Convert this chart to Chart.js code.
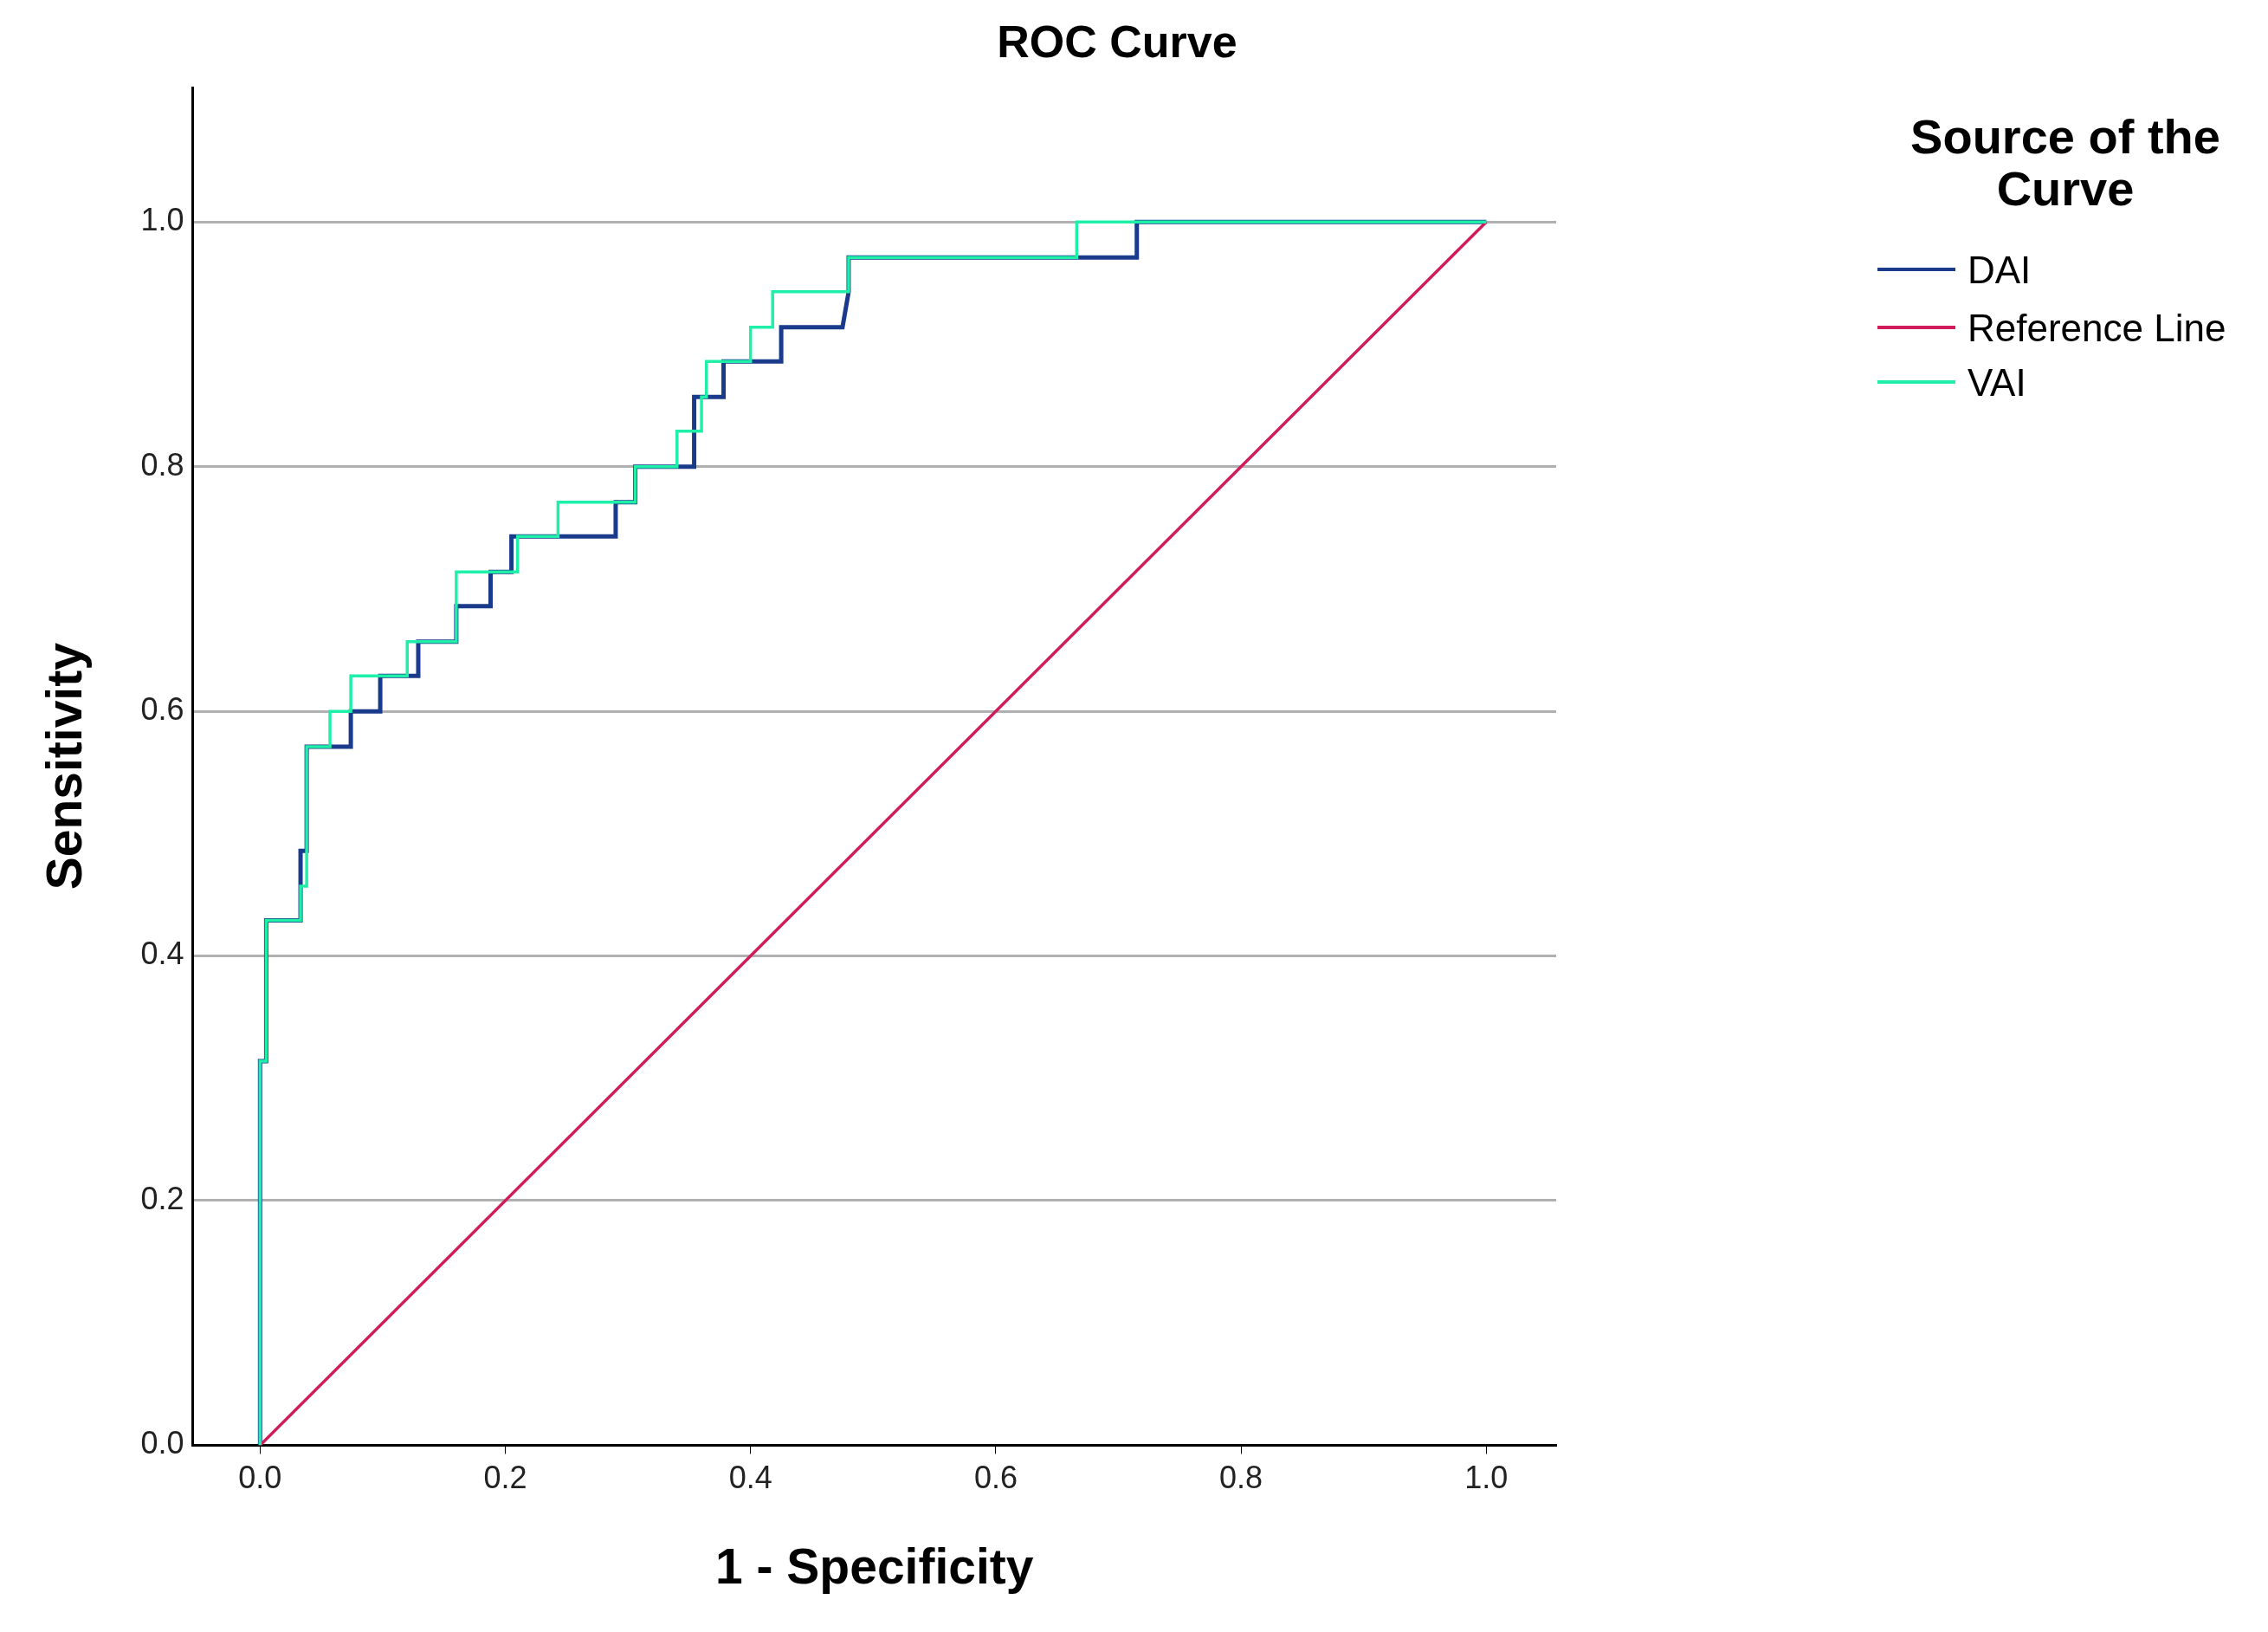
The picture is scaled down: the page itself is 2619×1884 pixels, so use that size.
<!DOCTYPE html>
<html><head><meta charset="utf-8">
<script src="https://cdn.jsdelivr.net/npm/chart.js@4/dist/chart.umd.min.js"></script>
<style>html,body{margin:0;background:#fff}#wrap{width:2619px;height:1884px}</style>
</head><body><div id="wrap"><canvas id="c"></canvas></div>
<script>
// step curves (1 - specificity, sensitivity)
const daiX = [0, 0, 0.005, 0.005, 0.033, 0.033, 0.038, 0.038, 0.074, 0.074, 0.098, 0.098, 0.129, 0.129, 0.16, 0.16, 0.188, 0.188, 0.205, 0.205, 0.29, 0.29, 0.306, 0.306, 0.354, 0.354, 0.378, 0.378, 0.425, 0.425, 0.475, 0.48, 0.48, 0.715, 0.715, 1]
const daiY = [0, 0.314, 0.314, 0.429, 0.429, 0.486, 0.486, 0.571, 0.571, 0.6, 0.6, 0.629, 0.629, 0.657, 0.657, 0.686, 0.686, 0.714, 0.714, 0.743, 0.743, 0.771, 0.771, 0.8, 0.8, 0.857, 0.857, 0.886, 0.886, 0.914, 0.914, 0.943, 0.971, 0.971, 1, 1]
const vaiX = [0, 0, 0.005, 0.005, 0.033, 0.033, 0.038, 0.038, 0.057, 0.057, 0.074, 0.074, 0.12, 0.12, 0.16, 0.16, 0.21, 0.21, 0.243, 0.243, 0.29, 0.29, 0.306, 0.306, 0.34, 0.34, 0.36, 0.36, 0.364, 0.364, 0.4, 0.4, 0.418, 0.418, 0.48, 0.48, 0.666, 0.666, 1]
const vaiY = [0, 0.314, 0.314, 0.429, 0.429, 0.457, 0.457, 0.571, 0.571, 0.6, 0.6, 0.629, 0.629, 0.657, 0.657, 0.714, 0.714, 0.743, 0.743, 0.771, 0.771, 0.771, 0.771, 0.8, 0.8, 0.829, 0.829, 0.857, 0.857, 0.886, 0.886, 0.914, 0.914, 0.943, 0.943, 0.971, 0.971, 1, 1]
const refX = [0, 1]
const refY = [0, 1]
const tickVals = [0, 0.2, 0.4, 0.6, 0.8, 1.0]
const seriesNames = ['DAI', 'Reference Line', 'VAI']
const colors = ['#1a3a8c', '#d01c5b', '#1ff0a8']

const pts = (xs, ys) => xs.map((x, i) => ({ x, y: ys[i] }))
const FONT = 'Liberation Sans, Arial, sans-serif'

const legendPlugin = {
  id: 'spssLegend',
  afterDraw(chart) {
    const ctx = chart.ctx
    ctx.save()
    ctx.fillStyle = '#000'
    ctx.textAlign = 'center'
    ctx.textBaseline = 'middle'
    ctx.font = `bold 52px ${FONT}`
    ctx.fillText('ROC Curve', 1290, 52)
    ctx.font = `bold 56px ${FONT}`
    ctx.fillText('Source of the', 2385, 162)
    ctx.fillText('Curve', 2385, 222)
    ctx.textAlign = 'left'
    ctx.font = `44px ${FONT}`
    const ys = [315, 382, 445]
    seriesNames.forEach((n, i) => {
      ctx.strokeStyle = colors[i]
      ctx.lineWidth = 4
      ctx.beginPath()
      ctx.moveTo(2168, ys[i] - 4); ctx.lineTo(2258, ys[i] - 4)
      ctx.stroke()
      ctx.fillText(n, 2272, ys[i])
    })
    ctx.restore()
  }
}

new Chart(document.getElementById('c'), {
  type: 'scatter',
  data: {
    datasets: [
      { label: 'DAI', data: pts(daiX, daiY), borderColor: colors[0], borderWidth: 5, showLine: true, pointRadius: 0, order: 2 },
      { label: 'Reference Line', data: pts(refX, refY), borderColor: colors[1], borderWidth: 3.5, showLine: true, pointRadius: 0, order: 1 },
      { label: 'VAI', data: pts(vaiX, vaiY), borderColor: colors[2], borderWidth: 3.5, showLine: true, pointRadius: 0, order: 0 }
    ]
  },
  options: {
    responsive: true, maintainAspectRatio: false, animation: false,
    layout: { padding: { top: 101, right: 822, left: 40, bottom: 34 } },
    plugins: {
      legend: { display: false }, tooltip: { enabled: false },
      title: { display: false }
    },
    scales: {
      x: {
        type: 'linear', min: -0.055, max: 1.057,
        afterBuildTicks: a => { a.ticks = tickVals.map(v => ({ value: v })) },
        ticks: { color: '#222', font: { family: FONT, size: 36 }, callback: v => v.toFixed(1), padding: 8 },
        grid: { drawOnChartArea: false, drawTicks: true, tickLength: 10, color: '#000' },
        border: { color: '#000', width: 3 },
        title: { display: true, text: '1 - Specificity', color: '#000', font: { family: FONT, size: 57, weight: 'bold' }, padding: { top: 40 } }
      },
      y: {
        min: 0, max: 1.11,
        afterBuildTicks: a => { a.ticks = tickVals.map(v => ({ value: v })) },
        ticks: { color: '#222', font: { family: FONT, size: 36 }, callback: v => v.toFixed(1), padding: 10 },
        grid: { color: '#b0b0b0', lineWidth: 3, drawTicks: false },
        border: { color: '#000', width: 3 },
        title: { display: true, text: 'Sensitivity', color: '#000', font: { family: FONT, size: 57, weight: 'bold' }, padding: { bottom: 40 } }
      }
    }
  },
  plugins: [legendPlugin]
})
</script></body></html>
